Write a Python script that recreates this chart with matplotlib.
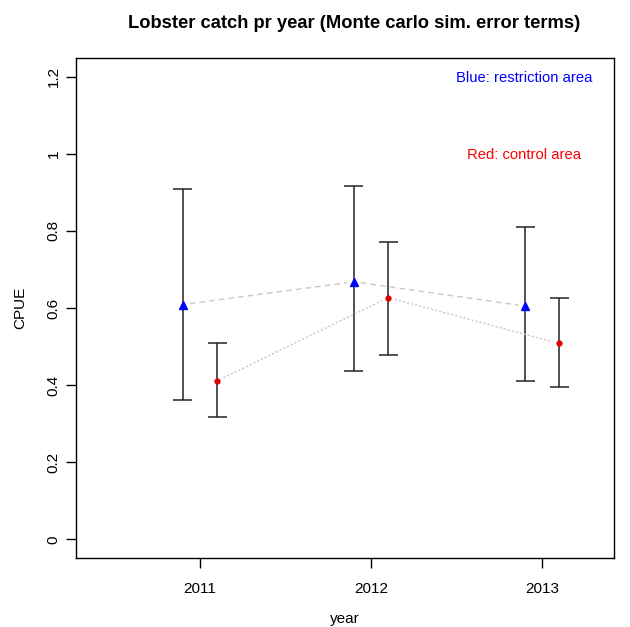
import numpy as np
import matplotlib
matplotlib.use("Agg")
import matplotlib.pyplot as plt

plt.rcParams['font.family'] = ['Liberation Sans', 'DejaVu Sans']

years = [2011, 2012, 2013]
offset = 0.1

# restriction area (blue)
blue_mean = [0.609, 0.668, 0.605]
blue_low = [0.362, 0.436, 0.412]
blue_high = [0.908, 0.916, 0.809]

# control area (red)
red_mean = [0.411, 0.627, 0.508]
red_low = [0.317, 0.477, 0.394]
red_high = [0.510, 0.771, 0.625]

yticks = [0, 0.2, 0.4, 0.6, 0.8, 1.0, 1.2]
ytick_labels = ["0", "0.2", "0.4", "0.6", "0.8", "1", "1.2"]

fig = plt.figure(figsize=(6.30, 6.27), dpi=100)
ax = fig.add_axes([76 / 630, (627 - 558) / 627, (614 - 76) / 630, (558 - 58) / 627])
ax.set_xlim(2010.275, 2013.42)
ax.set_ylim(-0.048, 1.248)


def gapped_line(ax, xs, ys, gap_px, **kw):
    """Connect points like R's type='b': segments stop short of each point."""
    fig.canvas.draw()
    tr = ax.transData
    pts = tr.transform(np.column_stack([xs, ys]))
    for p0, p1 in zip(pts[:-1], pts[1:]):
        d = p1 - p0
        L = np.hypot(*d)
        u = d / L
        a = p0 + u * gap_px
        b = p1 - u * gap_px
        seg = tr.inverted().transform(np.vstack([a, b]))
        ax.plot(seg[:, 0], seg[:, 1], **kw)


def error_bars(ax, xs, lo, hi, cap_px=9.5):
    fig.canvas.draw()
    tr = ax.transData
    for x, l, h in zip(xs, lo, hi):
        ax.plot([x, x], [l, h], color='#222222', lw=1.1, solid_capstyle='butt')
        px = tr.transform((x, 0))[0]
        x0 = tr.inverted().transform((px - cap_px, 0))[0]
        x1 = tr.inverted().transform((px + cap_px, 0))[0]
        ax.plot([x0, x1], [l, l], color='#222222', lw=1.1, solid_capstyle='butt')
        ax.plot([x0, x1], [h, h], color='#222222', lw=1.1, solid_capstyle='butt')


bx = [y - offset for y in years]
rx = [y + offset for y in years]

error_bars(ax, bx, blue_low, blue_high)
error_bars(ax, rx, red_low, red_high)

gapped_line(ax, bx, blue_mean, 7, color='#c8c8c8', lw=1, linestyle=(0, (4, 3)))
gapped_line(ax, rx, red_mean, 7, color='#c8c8c8', lw=1, linestyle=(0, (1.5, 1.5)))

ax.plot(bx, blue_mean, linestyle='none', marker='^', color='#0000ff', markersize=5.5, zorder=5)
ax.plot(rx, red_mean, linestyle='none', marker='o', color='#e00000', markersize=3.5, zorder=5)

ax.text(2012.895, 1.197, "Blue: restriction area", color='#0000ff', fontsize=10.6,
        ha='center', va='center')
ax.text(2012.895, 0.996, "Red: control area", color='#ff0000', fontsize=10.6,
        ha='center', va='center')

ax.set_xticks(years)
ax.set_xticklabels([str(y) for y in years], fontsize=11)
ax.set_yticks(yticks)
ax.set_yticklabels(ytick_labels, fontsize=11, rotation=90, va='center')
ax.tick_params(axis='x', length=7, width=1, pad=10)
ax.tick_params(axis='y', length=7, width=1, pad=4)
for s in ax.spines.values():
    s.set_linewidth(1)

ax.set_xlabel("year", fontsize=11, labelpad=12)
ax.set_ylabel("CPUE", fontsize=11, labelpad=14)
fig.text(354 / 630, 1 - 23 / 627, "Lobster catch pr year (Monte carlo sim. error terms)",
         fontsize=13.2, fontweight='bold', ha='center', va='center')

fig.savefig("out.png", dpi=100)
